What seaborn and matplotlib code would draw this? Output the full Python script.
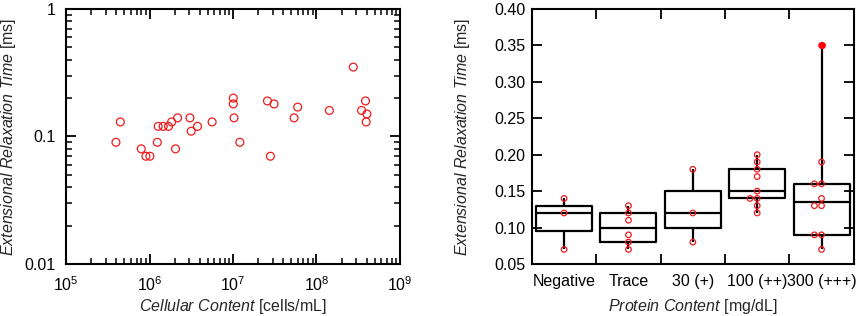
import numpy as np
import pandas as pd
import matplotlib
matplotlib.use('Agg')
import matplotlib.pyplot as plt
import matplotlib.ticker as mticker
import seaborn as sns

# Left panel: cellular content vs relaxation time
cells = [3.96e5, 4.47e5, 7.96e5, 9.06e5, 1.01e6, 1.24e6, 1.27e6, 1.46e6, 1.69e6,
         1.84e6, 2.05e6, 2.17e6, 3.05e6, 3.16e6, 3.76e6, 5.63e6, 1.01e7, 1.01e7,
         1.03e7, 1.21e7, 2.59e7, 2.81e7, 3.11e7, 5.40e7, 5.97e7, 1.43e8, 2.77e8,
         3.48e8, 3.88e8, 4.03e8, 3.95e8]
relax_cells = [0.09, 0.13, 0.08, 0.07, 0.07, 0.09, 0.12, 0.12, 0.12,
               0.13, 0.08, 0.14, 0.14, 0.11, 0.12, 0.13, 0.20, 0.18,
               0.14, 0.09, 0.19, 0.07, 0.18, 0.14, 0.17, 0.16, 0.35,
               0.16, 0.19, 0.15, 0.13]

# Right panel: protein content groups
protein_cats = ['Negative', 'Trace', '30 (+)', '100 (++)', '300 (+++)']
neg = [0.07, 0.12, 0.14]
trace = [0.07, 0.08, 0.09, 0.11, 0.12, 0.13]
p30 = [0.08, 0.12, 0.18]
p100 = [0.12, 0.13, 0.14, 0.14, 0.15, 0.17, 0.18, 0.19, 0.20]
p300 = [0.07, 0.09, 0.09, 0.13, 0.13, 0.14, 0.16, 0.16, 0.19, 0.35]

groups = [neg, trace, p30, p100, p300]
df_prot = pd.DataFrame({
    'cat': np.repeat(protein_cats, [len(g) for g in groups]),
    'val': np.concatenate(groups),
})
df_cells = pd.DataFrame({'cells': cells, 'relax': relax_cells})


def tukey_hinges(vals):
    s = np.sort(vals)
    n = len(s)
    return np.median(s[:(n + 1) // 2]), np.median(s[n // 2:])


sns.set_style('ticks')
plt.rcParams['font.family'] = ['Liberation Sans', 'DejaVu Sans']
plt.rcParams['font.size'] = 11.5
plt.rcParams['mathtext.fontset'] = 'custom'
plt.rcParams['mathtext.rm'] = 'Liberation Sans'
plt.rcParams['mathtext.it'] = 'Liberation Sans:italic'

fs = 11.5
fig = plt.figure(figsize=(8.58, 3.16), dpi=100)
ax1 = fig.add_axes([0.077, 0.1646, 0.389, 0.807])
ax2 = fig.add_axes([0.620, 0.1646, 0.375, 0.807])

red = '#ee1c1c'

# ---- left scatter
sns.scatterplot(data=df_cells, x='cells', y='relax', ax=ax1, s=32, marker='o',
                linewidth=0.9, legend=False)
for c in ax1.collections:
    c.set_facecolor('none')
    c.set_edgecolor(red)
ax1.set_xscale('log')
ax1.set_yscale('log')
ax1.set_xlim(1e5, 1e9)
ax1.set_ylim(0.01, 1)
ax1.yaxis.set_major_formatter(mticker.FuncFormatter(lambda v, p: f'{v:g}'))
ax1.xaxis.set_minor_formatter(mticker.NullFormatter())
ax1.yaxis.set_minor_formatter(mticker.NullFormatter())
ax1.tick_params(which='both', direction='in', top=True, right=True, colors='black')
ax1.tick_params(which='major', length=7, width=1.3, labelsize=fs)
ax1.tick_params(axis='x', which='major', pad=8)
ax1.tick_params(axis='y', which='major', pad=7.5)
ax1.tick_params(which='minor', length=4.5, width=1.1)
ax1.set_xlabel(r'$\mathit{Cellular\ Content}$ [cells/mL]', fontsize=fs)
ax1.set_ylabel(r'$\mathit{Extensional\ Relaxation\ Time}$ [ms]', fontsize=fs)
ax1.yaxis.set_label_coords(-0.145, 0.5)
ax1.xaxis.set_label_coords(0.5, -0.13)

# ---- right box + swarm
sns.boxplot(data=df_prot, x='cat', y='val', order=protein_cats, ax=ax2,
            whis=(0, 100), width=0.87, fill=False, color='black', linewidth=1.6,
            showcaps=False, showfliers=False)
# boxes use hinges (median of each half) as in the original figure
for ln in ax2.lines:
    x = np.asarray(ln.get_xdata(), dtype=float)
    y = np.asarray(ln.get_ydata(), dtype=float)
    i = int(round(x.mean()))
    if not 0 <= i < len(groups):
        continue
    g = groups[i]
    q1, q3 = tukey_hinges(g)
    if len(x) == 5:
        ln.set_ydata([q1, q1, q3, q3, q1])
    elif len(x) == 2 and np.isclose(x[0], x[1]):
        if np.isclose(y.min(), min(g)):
            ln.set_ydata([q1, min(g)])
        else:
            ln.set_ydata([q3, max(g)])

n_before = len(ax2.collections)
sns.swarmplot(data=df_prot, x='cat', y='val', order=protein_cats, ax=ax2,
              size=4, linewidth=0.9, color=red)
for c in ax2.collections[n_before:]:
    c.set_facecolor('none')
    c.set_edgecolor(red)
# largest value in the +++ group drawn filled
top = df_prot[df_prot['cat'] == '300 (+++)'].nlargest(1, 'val')
sns.stripplot(data=top, x='cat', y='val', order=protein_cats, ax=ax2,
              jitter=False, size=5, color='red', linewidth=0)

ax2.set_ylim(0.05, 0.40)
ax2.set_xlim(-0.5, 4.5)
ax2.yaxis.set_major_locator(mticker.MultipleLocator(0.05))
ax2.yaxis.set_major_formatter(mticker.FormatStrFormatter('%.2f'))
ax2.xaxis.set_minor_locator(mticker.FixedLocator(np.arange(0.5, 4, 1)))
ax2.tick_params(which='both', direction='in', top=True, right=True, colors='black')
ax2.tick_params(axis='x', which='major', length=0, pad=7, labelsize=fs)
ax2.tick_params(axis='x', which='minor', length=7, width=1.3)
ax2.tick_params(axis='y', which='major', length=7, width=1.3, pad=4.5, labelsize=fs)
ax2.set_xlabel(r'$\mathit{Protein\ Content}$ [mg/dL]', fontsize=fs)
ax2.set_ylabel(r'$\mathit{Extensional\ Relaxation\ Time}$ [ms]', fontsize=fs)
ax2.yaxis.set_label_coords(-0.187, 0.5)
ax2.xaxis.set_label_coords(0.5, -0.13)

for ax in (ax1, ax2):
    for s in ax.spines.values():
        s.set_linewidth(1.5)
        s.set_color('black')
        s.set_visible(True)

fig.savefig('out.png', dpi=100)
